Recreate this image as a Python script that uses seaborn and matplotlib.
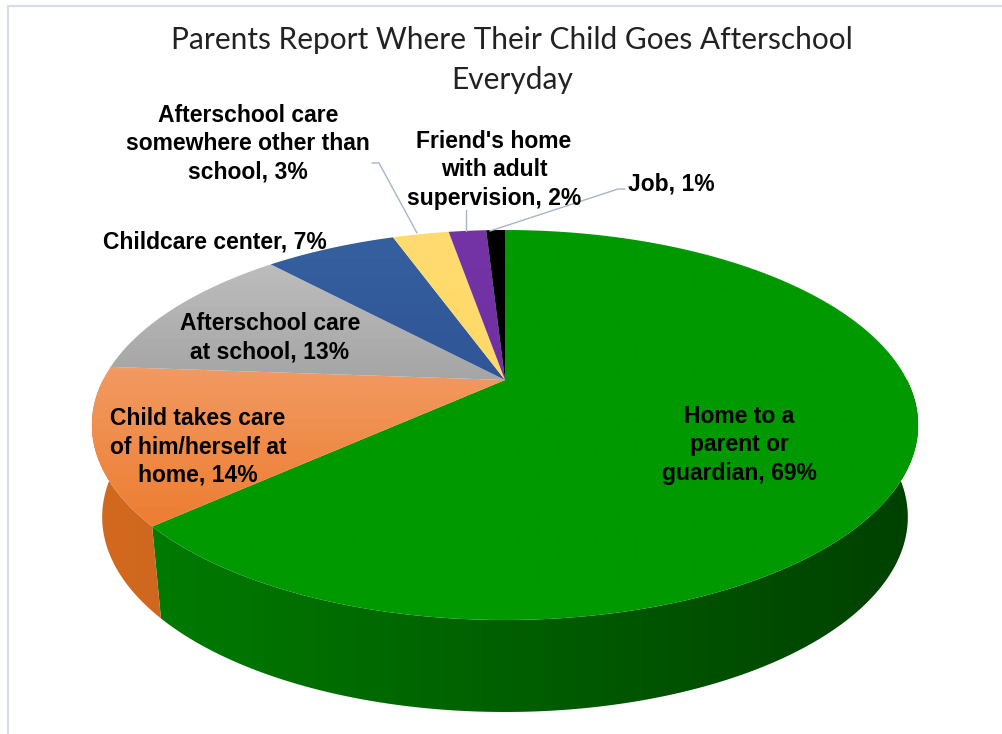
import numpy as np
import matplotlib
matplotlib.use("Agg")
import matplotlib.pyplot as plt
import seaborn as sns
from matplotlib.patches import Polygon, Rectangle
from matplotlib.colors import to_rgb

sns.set_theme(style="white")
plt.rcParams["font.family"] = ["Liberation Sans", "DejaVu Sans"]

# Survey answers (percent of parents)
categories = [
    "Home to a\nparent or\nguardian",
    "Child takes care\nof him/herself at\nhome",
    "Afterschool care\nat school",
    "Childcare center",
    "Afterschool care\nsomewhere other than\nschool",
    "Friend's home\nwith adult\nsupervision",
    "Job",
]
values = [69, 14, 13, 7, 3, 2, 1]
top_colors = ["#009900", "#ED7D31", "#A5A5A5", "#2F5597", "#FFD966", "#7030A0", "#000000"]
top_light = ["#009900", "#F29A62", "#BDBDBD", "#35609F", "#FFDB70", "#7434A6", "#000000"]
side_left = ["#007F00", "#D2691F", "#8C8C8C", "#234272", "#C9A94E", "#55247A", "#000000"]
side_right = ["#004000", "#B5561A", "#6E6E6E", "#1B3358", "#A88C3E", "#401B5C", "#000000"]
title = "Parents Report Where Their Child Goes Afterschool\nEveryday"

# Pie geometry (pixel space) with a simple perspective tilt
CX, CY = 505.0, 380.0
A, B, K = 402.0, 184.6, 0.2308
DEPTH, SHRINK = 92.0, 0.975


def project(theta_deg, bottom=False):
    t = np.radians(theta_deg)
    u, v = np.cos(t), np.sin(t)
    w = 1.0 + K * v
    x = CX + A * u / w
    y = CY - B * v / w
    if bottom:
        x = CX + (x - CX) * SHRINK
        y = y + DEPTH
    return x, y


def gradient_fill(ax, verts, c0, c1, horizontal, span, z):
    """Fill a polygon with a linear gradient running from c0 to c1 across span."""
    poly = Polygon(verts, closed=True, facecolor="none", edgecolor="none")
    ax.add_patch(poly)
    n = 256
    ramp = np.linspace(0, 1, n)
    c0, c1 = np.array(to_rgb(c0)), np.array(to_rgb(c1))
    cols = c0[None, :] * (1 - ramp[:, None]) + c1[None, :] * ramp[:, None]
    if horizontal:
        img = cols[None, :, :]
        extent = (span[0], span[1], 734, 0)
    else:
        img = cols[:, None, :]
        extent = (0, 1003, span[1], span[0])
    im = ax.imshow(img, extent=extent, aspect="auto", zorder=z, interpolation="bilinear")
    im.set_clip_path(poly)


fig = plt.figure(figsize=(10.03, 7.34), dpi=100)
ax = fig.add_axes([0, 0, 1, 1])
ax.set_xlim(0, 1003)
ax.set_ylim(734, 0)
ax.axis("off")

# chart-area frame
ax.add_patch(Rectangle((8, 6), 1010, 740, facecolor="white", edgecolor="#D6DCE5", lw=1.5, zorder=0))

total = float(sum(values))
bounds = 90.0 - 360.0 * np.concatenate([[0], np.cumsum(values)]) / total

# side walls (front half only: angles in the -180..0 window)
for i in range(len(values)):
    a0, a1 = bounds[i], bounds[i + 1]  # a0 > a1 (clockwise)
    for shift in (0.0, 360.0, -360.0):
        lo_s, hi_s = max(a1 + shift, -180.0), min(a0 + shift, 0.0)
        if hi_s - lo_s > 0.01:
            th = np.linspace(hi_s, lo_s, 200)
            tx, ty = project(th)
            bx, by = project(th, bottom=True)
            verts = np.column_stack([np.concatenate([tx, bx[::-1]]), np.concatenate([ty, by[::-1]])])
            gradient_fill(ax, verts, side_left[i], side_right[i], True, (92, 918), 2)

# top faces
for i in range(len(values)):
    a0, a1 = bounds[i], bounds[i + 1]
    th = np.linspace(a0, a1, max(int(abs(a0 - a1)) * 3, 20))
    tx, ty = project(th)
    verts = np.column_stack([np.concatenate([[CX], tx]), np.concatenate([[CY], ty])])
    ymin, ymax = verts[:, 1].min(), verts[:, 1].max()
    gradient_fill(ax, verts, top_light[i], top_colors[i], False, (ymin, ymax), 3)

# title
ax.text(512, 60, title, ha="center", va="center", fontsize=21.5, color="#222222",
        family=["Lato", "DejaVu Sans"], linespacing=1.5, zorder=5)

# data labels
label_pos = [(739, 445), (198, 447), (270, 338), (215, 242), (248, 144), (494, 170), (671, 184)]
for name, val, (x, y) in zip(categories, values, label_pos):
    ax.text(x, y, f"{name}, {val}%", ha="center", va="center", fontsize=16.5,
            fontweight="bold", color="black", linespacing=1.3, zorder=6)

# leader lines for the thin slices
lc = "#A7B5C9"
ax.plot([372, 379, 417], [163, 163, 233], color=lc, lw=1, zorder=4)
ax.plot([466, 466], [210, 231], color=lc, lw=1, zorder=4)
ax.plot([625, 618, 490], [189, 189, 231], color=lc, lw=1, zorder=4)

fig.savefig("out.png", dpi=100)
